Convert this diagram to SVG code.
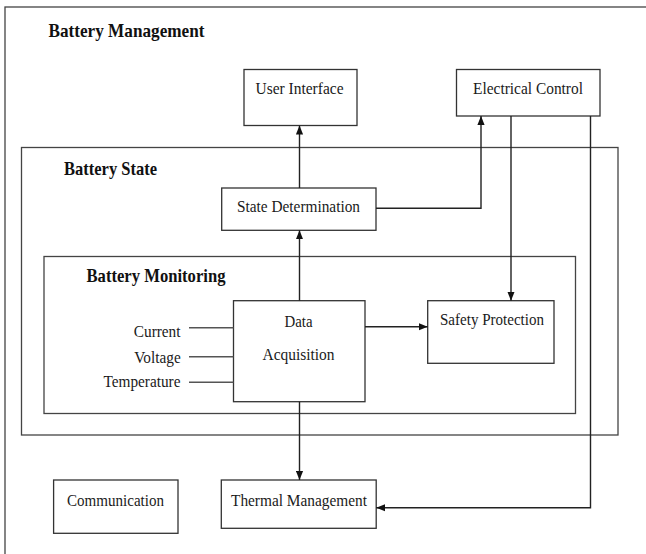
<svg xmlns="http://www.w3.org/2000/svg" width="646" height="554" viewBox="0 0 646 554">
<defs>
<marker id="ah" viewBox="0 0 10 8" refX="10" refY="4" markerWidth="9" markerHeight="8" markerUnits="userSpaceOnUse" orient="auto">
<path d="M0,0 L10,4 L0,8 z" fill="#111"/>
</marker>
</defs>
<style>
.box{fill:#fff;stroke:#333;stroke-width:1.3}
.frame{fill:none;stroke:#444;stroke-width:1.3}
.t{font-family:"Liberation Serif","Times New Roman",serif;font-size:17.5px;fill:#1a1a1a}
.b{font-family:"Liberation Serif","Times New Roman",serif;font-size:19.5px;font-weight:bold;fill:#111}
.c{text-anchor:middle}
.e{text-anchor:end}
.ln{fill:none;stroke:#222;stroke-width:1.4}
.in{fill:none;stroke:#555;stroke-width:1.4}
</style>
<rect width="646" height="554" fill="#fff"/>
<g id="battery-management">
<rect class="frame" x="5" y="7" width="700" height="600"/>
<text class="b" x="48.5" y="36.5" textLength="156" lengthAdjust="spacingAndGlyphs">Battery Management</text>
</g>
<g id="battery-state">
<rect class="frame" x="21.5" y="147.5" width="596.5" height="287.5"/>
<text class="b" x="64" y="175" textLength="93" lengthAdjust="spacingAndGlyphs">Battery State</text>
</g>
<g id="battery-monitoring">
<rect class="frame" x="44" y="256.5" width="531.5" height="157"/>
<text class="b" x="86.5" y="281.5" textLength="139" lengthAdjust="spacingAndGlyphs">Battery Monitoring</text>
</g>
<g id="user-interface">
<rect class="box" x="244" y="69.5" width="113" height="56"/>
<text class="t c" x="299.5" y="94" textLength="88" lengthAdjust="spacingAndGlyphs">User Interface</text>
</g>
<g id="electrical-control">
<rect class="box" x="456.5" y="69.5" width="143.5" height="46.5"/>
<text class="t c" x="528" y="94" textLength="110" lengthAdjust="spacingAndGlyphs">Electrical Control</text>
</g>
<g id="state-determination">
<rect class="box" x="221.7" y="188" width="154.3" height="42.3"/>
<text class="t c" x="298.5" y="212" textLength="123" lengthAdjust="spacingAndGlyphs">State Determination</text>
</g>
<g id="data-acquisition">
<rect class="box" x="233.5" y="300.7" width="131.5" height="101"/>
<text class="t c" x="298.5" y="326.7" textLength="28" lengthAdjust="spacingAndGlyphs">Data</text>
<text class="t c" x="298.5" y="360" textLength="72" lengthAdjust="spacingAndGlyphs">Acquisition</text>
</g>
<g id="safety-protection">
<rect class="box" x="427.7" y="300.7" width="126.3" height="62.6"/>
<text class="t c" x="492" y="325" textLength="104" lengthAdjust="spacingAndGlyphs">Safety Protection</text>
</g>
<g id="communication">
<rect class="box" x="53.6" y="480" width="124.4" height="53.3"/>
<text class="t c" x="115.5" y="506" textLength="97" lengthAdjust="spacingAndGlyphs">Communication</text>
</g>
<g id="thermal-management">
<rect class="box" x="221.3" y="480" width="154.9" height="48.3"/>
<text class="t c" x="299" y="506" textLength="136" lengthAdjust="spacingAndGlyphs">Thermal Management</text>
</g>
<g id="inputs">
<text class="t e" x="180.5" y="336.7" textLength="46.7" lengthAdjust="spacingAndGlyphs">Current</text>
<text class="t e" x="180.7" y="363.3" textLength="46.4" lengthAdjust="spacingAndGlyphs">Voltage</text>
<text class="t e" x="180.5" y="387.3" textLength="77" lengthAdjust="spacingAndGlyphs">Temperature</text>
</g>
<g id="connectors">
<path class="in" d="M189,327.7 H233.5"/>
<path class="in" d="M189,356.7 H233.5"/>
<path class="in" d="M189,382.3 H233.5"/>
<path class="ln" d="M299.5,188 V125.5" marker-end="url(#ah)"/>
<path class="ln" d="M376,208.3 H481 V116" marker-end="url(#ah)"/>
<path class="ln" d="M511,116 V300.7" marker-end="url(#ah)"/>
<path class="ln" d="M590.5,116 V507.7 H376.2" marker-end="url(#ah)"/>
<path class="ln" d="M299.5,300.7 V230.3" marker-end="url(#ah)"/>
<path class="ln" d="M365,326.7 H427.7" marker-end="url(#ah)"/>
<path class="ln" d="M299.5,401.7 V480" marker-end="url(#ah)"/>
</g>
</svg>
